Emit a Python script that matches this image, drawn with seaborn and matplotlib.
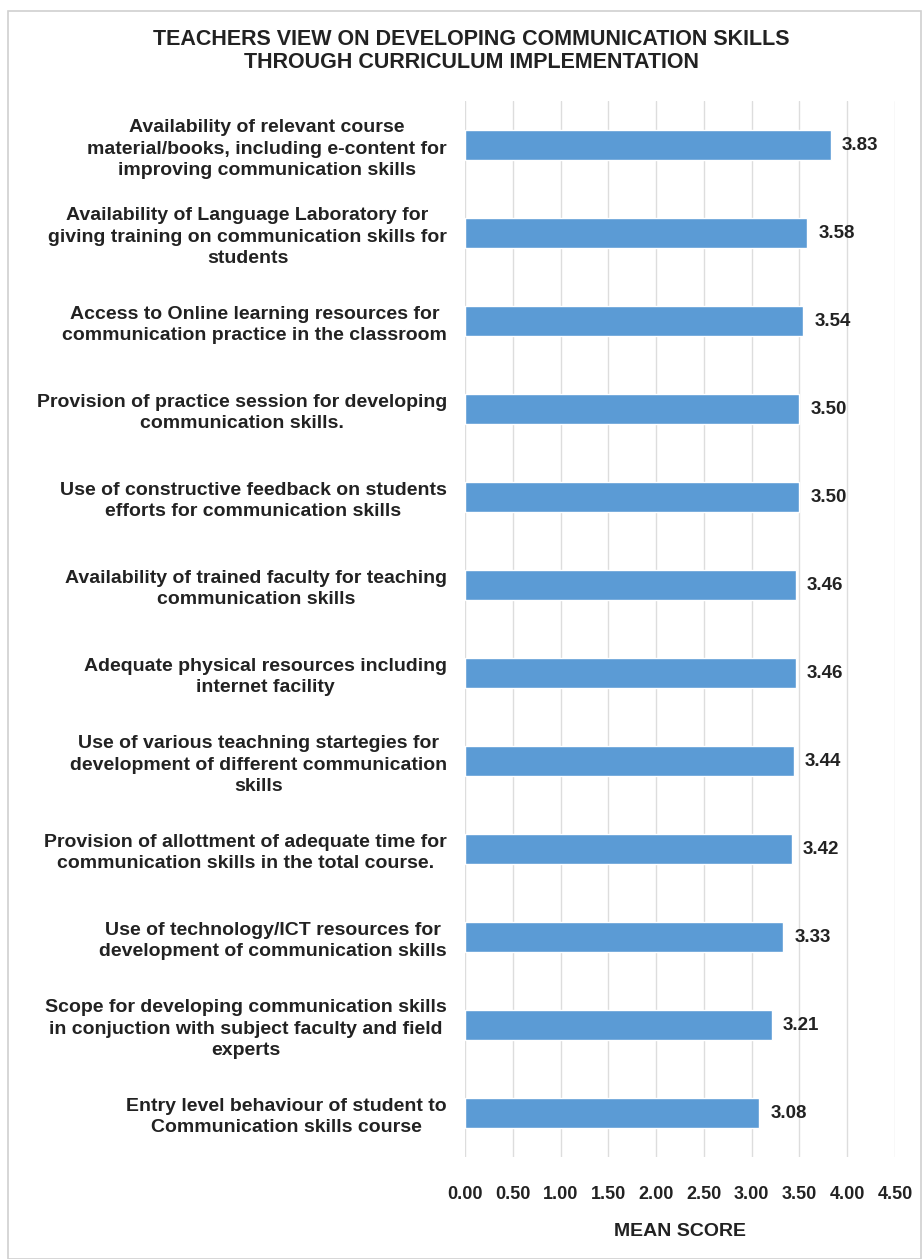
import matplotlib
matplotlib.use("Agg")
import matplotlib.pyplot as plt
import seaborn as sns
import pandas as pd
from matplotlib.patches import Rectangle

categories = [
    "Availability of relevant course\nmaterial/books, including e-content for\nimproving communication skills",
    "Availability of Language Laboratory for\ngiving training on communication skills for\nstudents",
    "Access to Online learning resources for\ncommunication practice in the classroom",
    "Provision of practice session for developing\ncommunication skills.",
    "Use of constructive feedback on students\nefforts for communication skills",
    "Availability of trained faculty for teaching\ncommunication skills",
    "Adequate physical resources including\ninternet facility",
    "Use of various teachning startegies for\ndevelopment of different communication\nskills",
    "Provision of allottment of adequate time for\ncommunication skills in the total course.",
    "Use of technology/ICT resources for\ndevelopment of communication skills",
    "Scope for developing communication skills\nin conjuction with subject faculty and field\nexperts",
    "Entry level behaviour of student to\nCommunication skills course",
]
mean_scores = [3.83, 3.58, 3.54, 3.50, 3.50, 3.46, 3.46, 3.44, 3.42, 3.33, 3.21, 3.08]
x_ticks = [0.0, 0.5, 1.0, 1.5, 2.0, 2.5, 3.0, 3.5, 4.0, 4.5]
title = "TEACHERS VIEW ON DEVELOPING COMMUNICATION SKILLS\nTHROUGH CURRICULUM IMPLEMENTATION"
x_label = "MEAN SCORE"

sns.set_theme(style="white")
plt.rcParams['font.family'] = ['Liberation Sans', 'DejaVu Sans']

df = pd.DataFrame({"item": categories, "score": mean_scores})

fig = plt.figure(figsize=(9.22, 12.59), dpi=100)
ax = fig.add_axes([465/922, 1 - 1157/1259, 430/922, (1157 - 101)/1259])

sns.barplot(data=df, y="item", x="score", orient="h", color="#5B9BD5",
            saturation=1, width=0.34, ax=ax, zorder=3)

ax.set_xlim(0, 4.5)
ax.set_xticks(x_ticks)
ax.set_xticklabels([f"{t:.2f}" for t in x_ticks], fontsize=13, fontweight="bold", color="#222222")
ax.grid(axis="x", color="#DDDDDD", linewidth=1, zorder=0)
ax.grid(axis="y", visible=False)
for s in ax.spines.values():
    s.set_visible(False)
ax.tick_params(axis="x", length=0, pad=21)
ax.tick_params(axis="y", length=0, pad=13)
ax.set_ylabel("")
ax.set_xlabel(x_label, fontsize=14, fontweight="bold", color="#222222", labelpad=14)
for lbl in ax.get_yticklabels():
    lbl.set_fontsize(14)
    lbl.set_fontweight("bold")
    lbl.set_color("#222222")
    lbl.set_multialignment("center")
    lbl.set_linespacing(1.32)

for cont in ax.containers:
    ax.bar_label(cont, fmt="%.2f", padding=8, fontsize=13.5, fontweight="bold", color="#222222")

fig.text(471/922, 1 - 51/1259, title, ha="center", va="center", fontsize=15.5,
         fontweight="bold", color="#222222", linespacing=1.15)

fig.patches.append(Rectangle((8/922, 0.5/1259), (921 - 8)/922, (1258 - 10)/1259,
                             transform=fig.transFigure, fill=False,
                             edgecolor="#D0D0D0", linewidth=1.2))

fig.savefig("out.png", dpi=100, facecolor="white")
